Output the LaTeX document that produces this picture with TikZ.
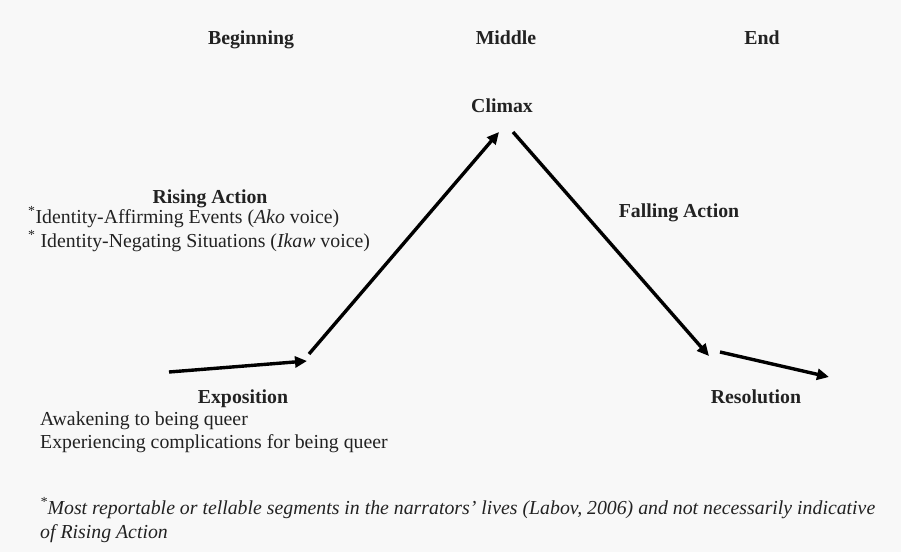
\documentclass[tikz,border=0pt]{standalone}
\usepackage{fontspec}
\setmainfont{Liberation Serif}
\usetikzlibrary{arrows.meta}
\definecolor{bgc}{HTML}{F8F8F8}
\definecolor{txt}{HTML}{222222}
\begin{document}
\begin{tikzpicture}[x=1pt,y=-1pt,
  lbl/.style={inner sep=0pt,text=txt,font=\fontsize{19.8}{23}\selectfont},
  hd/.style={lbl,font=\fontsize{19.8}{23}\selectfont\bfseries,anchor=base},
  tx/.style={lbl,anchor=base west},
  arr/.style={line width=3.4pt,black,-{Triangle[length=12pt,width=11pt]}}]
\fill[bgc] (0,0) rectangle (901,552);
\useasboundingbox (0,0) rectangle (901,552);
\node[hd] (beg) at (251,44) {Beginning};
\node[hd] (mid) at (506,44) {Middle};
\node[hd] (end) at (762,44) {End};
\node[hd] (clim) at (502,112) {Climax};
\node[hd] (rise) at (210,203) {Rising Action};
\node[tx] (r1) at (28,223) {\textsuperscript{*}Identity-Affirming Events (\textit{Ako} voice)};
\node[tx] (r2) at (28,247) {\textsuperscript{*} Identity-Negating Situations (\textit{Ikaw} voice)};
\node[hd] (fall) at (679,217) {Falling Action};
\node[hd] (expo) at (243,403) {Exposition};
\node[tx] (e1) at (40,425) {Awakening to being queer};
\node[tx] (e2) at (40,448) {Experiencing complications for being queer};
\node[hd] (res) at (756,403) {Resolution};
\node[tx] (f1) at (40,514) {\textit{\textsuperscript{*}Most reportable or tellable segments in the narrators' lives (Labov, 2006) and not necessarily indicative}};
\node[tx] (f2) at (40,538) {\textit{of Rising Action}};
\coordinate (a1s) at (169,372);
\coordinate (a1e) at (307,361);
\coordinate (a2s) at (309,354);
\coordinate (a2e) at (499,132);
\coordinate (a3s) at (513,132);
\coordinate (a3e) at (709,356);
\coordinate (a4s) at (720,352);
\coordinate (a4e) at (829,377);
\draw[arr] (a1s) -- (a1e);
\draw[arr] (a2s) -- (a2e);
\draw[arr] (a3s) -- (a3e);
\draw[arr] (a4s) -- (a4e);
\end{tikzpicture}
\end{document}
